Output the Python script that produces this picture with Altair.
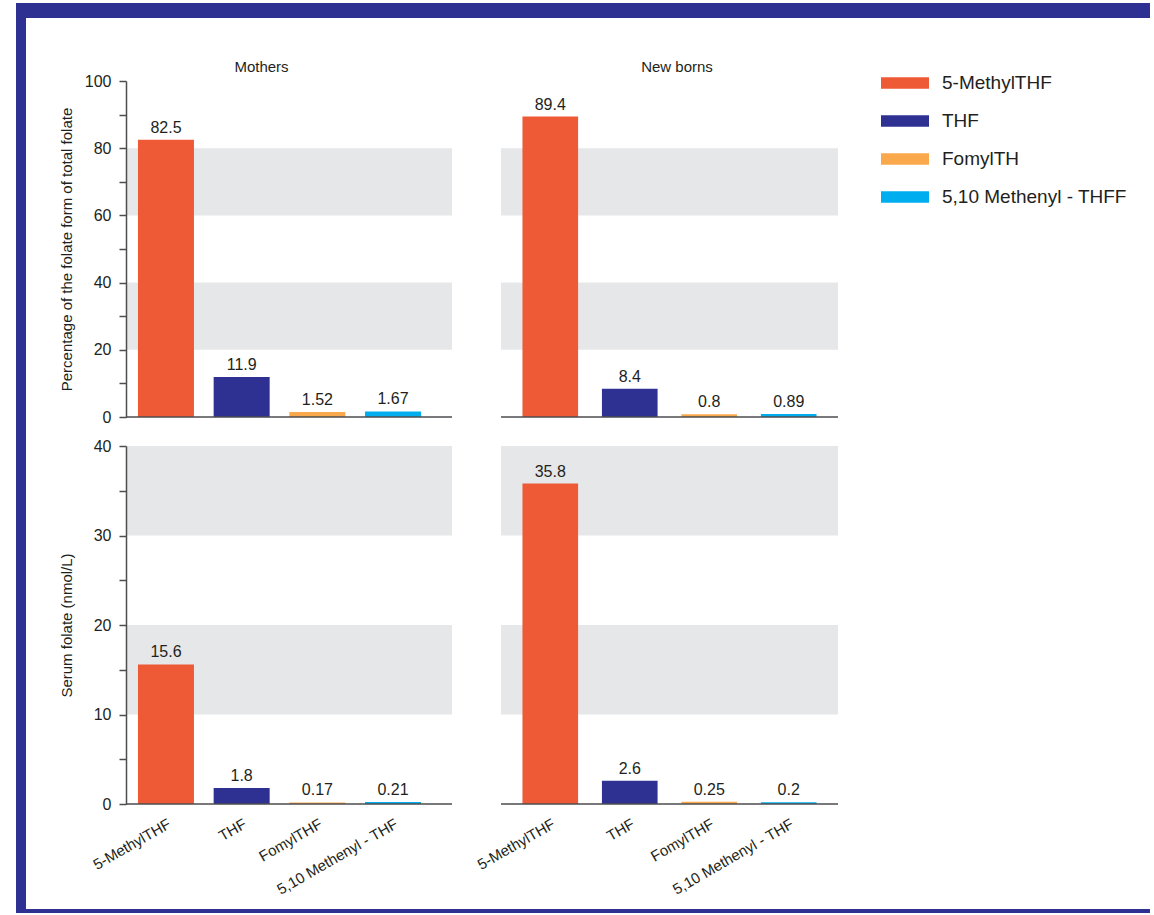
import altair as alt
import pandas as pd

# ---- data ----
forms = ["5-MethylTHF", "THF", "FomylTHF", "5,10 Methenyl - THF"]
legend_names = ["5-MethylTHF", "THF", "FomylTH", "5,10 Methenyl - THFF"]
colors = ["#EE5A36", "#2E3192", "#F9A94B", "#00AEEF"]

mothers_pct = [82.5, 11.9, 1.52, 1.67]
newborns_pct = [89.4, 8.4, 0.8, 0.89]
mothers_serum = [15.6, 1.8, 0.17, 0.21]
newborns_serum = [35.8, 2.6, 0.25, 0.2]

pct_bands_lo = [20, 60]
pct_bands_hi = [40, 80]
serum_bands_lo = [10, 30]
serum_bands_hi = [20, 40]

pct_ticks = [0, 10, 20, 30, 40, 50, 60, 70, 80, 90, 100]
serum_ticks = [0, 5, 10, 15, 20, 25, 30, 35, 40]

FONT = "Liberation Sans"
TXT = "#231F20"
AX = "#4D4D4F"
BAND = "#E6E7E8"
BLUE = "#2E3192"

LEFT_W, RIGHT_W = 326, 337
TOP_H, BOT_H = 336, 358

left_x = alt.Scale(range=[0, 307], paddingInner=0.26, paddingOuter=0.158)
right_x = alt.Scale(paddingInner=0.30, paddingOuter=0.27)

color_scale = alt.Scale(domain=legend_names, range=colors)


def panel(values, lo, hi, ymax, ticks, label_every, ytitle, w, h, xscale,
          show_xlabels, legend=None, title=None, title_dx=0, frame=False):
    df = pd.DataFrame({"form": forms, "legend": legend_names, "value": values,
                       "label": [str(v) for v in values]})
    bands = pd.DataFrame({"lo": lo, "hi": hi})
    yscale = alt.Scale(domain=[0, ymax], nice=False, zero=True)
    if ytitle:
        yaxis = alt.Axis(title=ytitle, values=ticks,
                         labelExpr=f"datum.value % {label_every} === 0 ? datum.label : ''",
                         labelFontSize=16, labelColor=TXT, labelPadding=8,
                         tickColor=AX, tickWidth=1.5, tickSize=7,
                         domainColor=AX, domainWidth=1.5, grid=False,
                         titleFontSize=15, titleFontWeight="normal", titleColor=TXT,
                         titlePadding=12, minExtent=40, maxExtent=40, zindex=1)
    else:
        yaxis = None
    if show_xlabels:
        xaxis = alt.Axis(title=None, labelAngle=-30, domain=False, ticks=False,
                         labelFontSize=15, labelColor=TXT, labelPadding=12, zindex=1)
    else:
        xaxis = alt.Axis(orient="top", title=title, labels=False, ticks=False, domain=False,
                         titleFontSize=15, titleFontWeight="normal", titleColor=TXT,
                         titlePadding=7, titleX=w / 2 + title_dx, minExtent=0, maxExtent=0,
                         zindex=1)
    x = alt.X("form:N", sort=forms, scale=xscale, axis=xaxis)

    layers = []
    if frame:
        one = pd.DataFrame({"k": [0]})
        layers.append(alt.Chart(one).mark_rect(color=BLUE).encode(
            x=alt.value(-110), x2=alt.value(1024), y=alt.value(-78), y2=alt.value(832)))
        layers.append(alt.Chart(one).mark_rect(color="white").encode(
            x=alt.value(-100), x2=alt.value(1024), y=alt.value(-63), y2=alt.value(828)))

    layers.append(alt.Chart(bands).mark_rect(color=BAND).encode(
        y=alt.Y("lo:Q", scale=yscale, axis=yaxis), y2="hi:Q",
        x=alt.value(0), x2=alt.value(w)))

    color = alt.Color("legend:N", scale=color_scale, sort=legend_names,
                      legend=legend if legend is not None else None)
    layers.append(alt.Chart(df).mark_bar().encode(
        x=x, y=alt.Y("value:Q", scale=yscale, axis=yaxis), color=color))

    layers.append(alt.Chart(pd.DataFrame({"z": [0]})).mark_rule(color=AX, strokeWidth=1.5).encode(
        y=alt.Y("z:Q", scale=yscale, axis=yaxis), x=alt.value(0), x2=alt.value(w)))

    layers.append(alt.Chart(df).mark_text(dy=-7, fontSize=16, color=TXT, baseline="alphabetic").encode(
        x=x, y=alt.Y("value:Q", scale=yscale, axis=yaxis), text="label:N"))

    return alt.layer(*layers).properties(width=w, height=h)


legend = alt.Legend(orient="none", legendX=380, legendY=-8, title=None,
                    symbolType="M-1,-0.24L1,-0.24L1,0.24L-1,0.24Z", symbolSize=2304,
                    symbolStrokeWidth=0, symbolOpacity=1,
                    labelFontSize=19, labelColor=TXT, labelOffset=13, labelLimit=400,
                    rowPadding=18, clipHeight=20, padding=0)

tl = panel(mothers_pct, pct_bands_lo, pct_bands_hi, 100, pct_ticks, 20,
           "Percentage of the folate form of total folate", LEFT_W, TOP_H, left_x, False,
           title="Mothers", title_dx=-28, frame=True)
tr = panel(newborns_pct, pct_bands_lo, pct_bands_hi, 100, pct_ticks, 20,
           None, RIGHT_W, TOP_H, right_x, False, legend=legend,
           title="New borns", title_dx=7)
bl = panel(mothers_serum, serum_bands_lo, serum_bands_hi, 40, serum_ticks, 10,
           "Serum folate  (nmol/L)", LEFT_W, BOT_H, left_x, True)
br = panel(newborns_serum, serum_bands_lo, serum_bands_hi, 40, serum_ticks, 10,
           None, RIGHT_W, BOT_H, right_x, True)

chart = alt.concat(tl, tr, bl, br, columns=2, spacing={"row": 29, "column": 49},
                   bounds="flush", align="each").resolve_legend(
    color="independent"
).properties(
    background="white",
    padding={"left": 16, "top": 3, "right": 0, "bottom": 0},
).configure(font=FONT).configure_view(strokeWidth=0)

chart.save("out.html", embed_options={"renderer": "svg", "actions": False})
